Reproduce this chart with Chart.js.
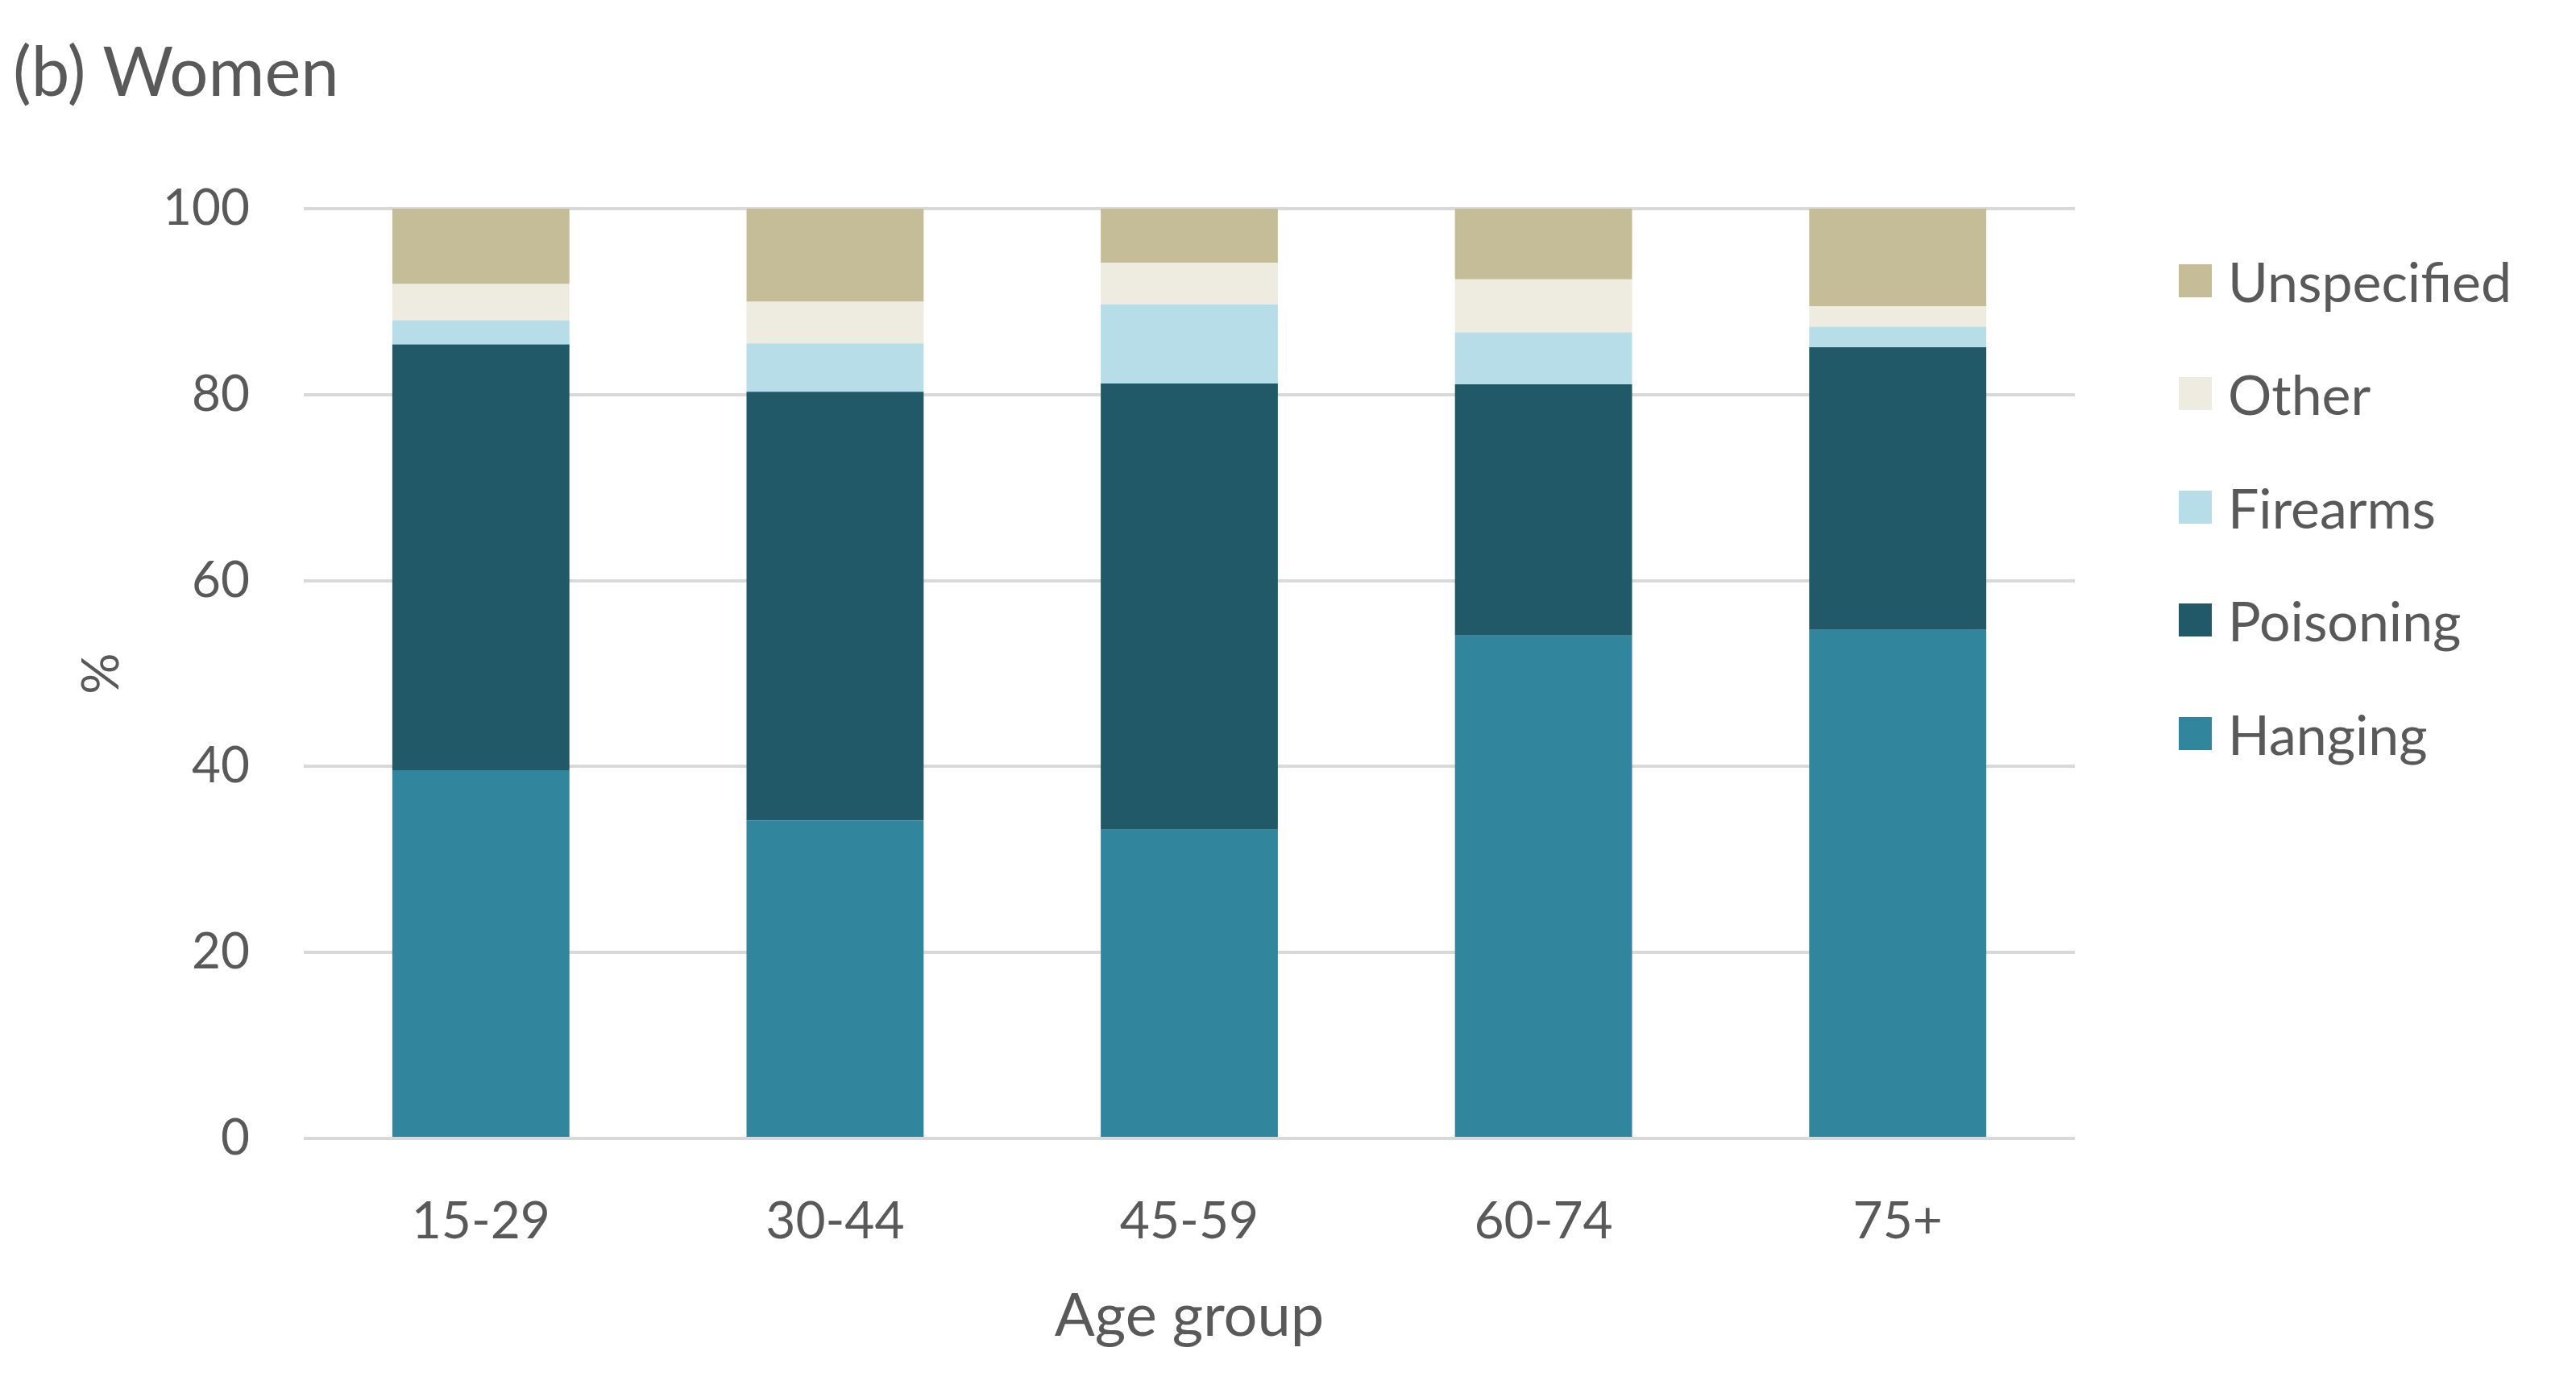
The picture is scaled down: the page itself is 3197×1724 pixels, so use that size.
<!DOCTYPE html>
<html>
<head>
<meta charset="utf-8">
<script src="https://cdn.jsdelivr.net/npm/chart.js@4.4.1/dist/chart.umd.min.js"></script>
<style>
  html, body { margin: 0; padding: 0; background: #fff; }
  #wrap { position: relative; width: 3197px; height: 1724px; }
  #title { position: absolute; left: 16px; top: 36px; font: 85px Lato, sans-serif; color: #595959; line-height: 100px; }
  #legend { position: absolute; left: 2704px; top: 0; font: 68px Lato, sans-serif; color: #595959; }
  .item { position: absolute; left: 0; height: 80px; display: flex; align-items: center; white-space: nowrap; }
  .box { width: 41px; height: 41px; margin-right: 20px; }
</style>
</head>
<body>
<div id="wrap">
  <canvas id="chart" width="3197" height="1724"></canvas>
  <div id="title">(b) Women</div>
  <div id="legend"></div>
</div>
<script>
const ageGroups = ['15-29', '30-44', '45-59', '60-74', '75+'];
const hanging     = [39.6, 34.2, 33.2, 54.1, 54.7];
const poisoning   = [45.8, 46.1, 48.0, 27.0, 30.4];
const firearms    = [2.6, 5.2, 8.5, 5.6, 2.2];
const other       = [3.9, 4.5, 4.5, 5.7, 2.2];
const unspecified = [8.1, 10.0, 5.8, 7.6, 10.5];
const yTicks = [0, 20, 40, 60, 80, 100];

const series = [
  {label: 'Hanging', data: hanging, color: '#31859c'},
  {label: 'Poisoning', data: poisoning, color: '#215968'},
  {label: 'Firearms', data: firearms, color: '#b7dee8'},
  {label: 'Other', data: other, color: '#eeece1'},
  {label: 'Unspecified', data: unspecified, color: '#c4bd97'}
];

const textColor = '#595959';

// legend, top to bottom = reverse of stack order
const legend = document.getElementById('legend');
series.slice().reverse().forEach(function(s, i) {
  const item = document.createElement('div');
  item.className = 'item';
  item.style.top = (348 + i * 140.5 - 40) + 'px';
  item.innerHTML = '<div class="box" style="background:' + s.color + '"></div><span>' + s.label + '</span>';
  legend.appendChild(item);
});

const ctx = document.getElementById('chart').getContext('2d');
new Chart(ctx, {
  type: 'bar',
  data: {
    labels: ageGroups,
    datasets: series.map(s => ({
      label: s.label,
      data: s.data,
      backgroundColor: s.color,
      borderWidth: 0,
      categoryPercentage: 1,
      barPercentage: 0.5
    }))
  },
  options: {
    responsive: false,
    animation: false,
    layout: {
      padding: {top: 259, right: 622, bottom: 0, left: 0}
    },
    plugins: {
      legend: {display: false},
      tooltip: {enabled: false}
    },
    scales: {
      x: {
        stacked: true,
        grid: {display: false},
        border: {display: false},
        ticks: {
          color: textColor,
          font: {family: 'Lato', size: 64},
          padding: 57,
          maxRotation: 0
        },
        title: {
          display: true,
          text: 'Age group',
          color: textColor,
          font: {family: 'Lato', size: 74},
          padding: {bottom: 45, top: 0}
        },
        afterFit(scale) { scale.height = 311; }
      },
      y: {
        stacked: true,
        min: 0,
        max: 100,
        afterBuildTicks(scale) { scale.ticks = yTicks.map(v => ({value: v})); },
        grid: {color: '#d9d9d9', lineWidth: 4, drawTicks: false},
        border: {display: false},
        ticks: {
          color: textColor,
          font: {family: 'Lato', size: 62},
          padding: 67
        },
        title: {
          display: true,
          text: '%',
          color: textColor,
          font: {family: 'Lato', size: 64},
          padding: {top: 88, bottom: 0}
        },
        afterFit(scale) { scale.width = 377; }
      }
    }
  }
});
</script>
</body>
</html>
